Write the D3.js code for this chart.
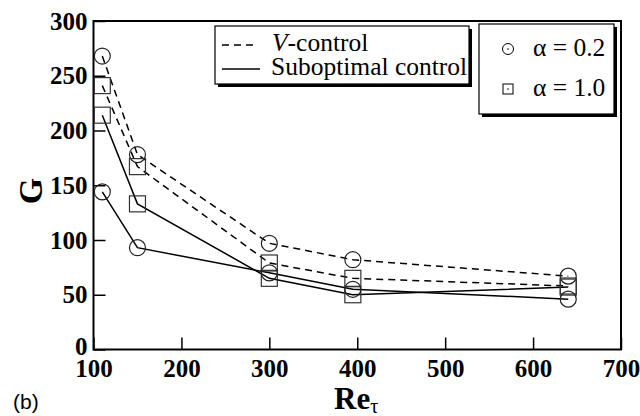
<!DOCTYPE html>
<html>
<head>
<meta charset="utf-8">
<script src="https://cdn.jsdelivr.net/npm/d3@7"></script>
<style>
body { margin: 0; background: #fff; }
svg { display: block; }
</style>
</head>
<body>
<div id="container"></div>
<script>
// Re_tau positions of the runs
var reTau = [110, 150, 300, 395, 640];

// G values
var vControlA02 = [268, 178, 97, 82, 67];
var vControlA10 = [241, 167, 79, 65, 58];
var subOptA10 = [214, 133, 65, 50, 57];
var subOptA02 = [144, 93, 70, 55, 46];

var xTicks = [100, 200, 300, 400, 500, 600, 700];
var yTicks = [0, 50, 100, 150, 200, 250, 300];

var series = [
    {name: "vA02", values: vControlA02, dash: true, marker: "circle"},
    {name: "vA10", values: vControlA10, dash: true, marker: "square"},
    {name: "sA10", values: subOptA10, dash: false, marker: "square"},
    {name: "sA02", values: subOptA02, dash: false, marker: "circle"}
];

var W = 640, H = 416;
var plotL = 93.5, plotT = 21, plotR = 621, plotB = 349.5;
var serif = "'Liberation Serif', 'Times New Roman', serif";

var svg = d3.select("#container").append("svg")
    .attr("width", W).attr("height", H)
    .attr("font-family", serif);

var x = d3.scaleLinear().domain([100, 700]).range([plotL, plotR]);
var y = d3.scaleLinear().domain([0, 300]).range([plotB, plotT]);

// axes, ticks pointing inward
var xAxis = svg.append("g")
    .attr("transform", "translate(0," + plotB + ")")
    .call(d3.axisBottom(x).tickValues(xTicks).tickSize(-12).tickPadding(10).tickFormat(d3.format("d")));
var yAxis = svg.append("g")
    .attr("transform", "translate(" + plotL + ",0)")
    .call(d3.axisLeft(y).tickValues(yTicks).tickSize(-12).tickPadding(6).tickFormat(d3.format("d")));

for (let ax of [xAxis, yAxis]) {
    ax.select(".domain").remove();
    ax.selectAll(".tick line").attr("stroke", "#000").attr("stroke-width", 1.5);
    ax.selectAll(".tick text")
        .attr("font-family", serif)
        .attr("font-weight", "bold")
        .attr("font-size", 25)
        .attr("fill", "#000");
}
// the 0 label sits a little higher than its tick
yAxis.selectAll(".tick text").filter(function(d) { return d == 0; }).attr("dy", "0.2em");

// frame
svg.append("rect")
    .attr("x", plotL).attr("y", plotT)
    .attr("width", plotR - plotL).attr("height", plotB - plotT)
    .attr("fill", "none").attr("stroke", "#000").attr("stroke-width", 2);

var line = d3.line()
    .x(function(d, i) { return x(reTau[i]); })
    .y(function(d) { return y(d); });

svg.selectAll("path.series")
    .data(series)
    .enter()
    .append("path")
        .attr("class", "series")
        .attr("d", function(d) { return line(d.values); })
        .attr("fill", "none")
        .attr("stroke", "#000")
        .attr("stroke-width", 1.5)
        .attr("stroke-dasharray", function(d) {
            if (d.dash) { return "7,5"; }
            else { return null; }
        });

// markers
series.forEach(function(s) {
    var g = svg.append("g").attr("class", "markers " + s.name);
    s.values.forEach(function(v, i) {
        if (s.marker == "circle") {
            g.append("circle")
                .attr("cx", x(reTau[i])).attr("cy", y(v)).attr("r", 8)
                .attr("fill", "none").attr("stroke", "#222").attr("stroke-width", 1.2);
        } else {
            g.append("rect")
                .attr("x", x(reTau[i]) - 8).attr("y", y(v) - 8)
                .attr("width", 16).attr("height", 16)
                .attr("fill", "none").attr("stroke", "#333").attr("stroke-width", 1.2);
        }
    });
});

// legend boxes with drop shadow
function legendBox(bx, by, bw, bh) {
    svg.append("rect")
        .attr("x", bx + 3).attr("y", by + 3).attr("width", bw).attr("height", bh)
        .attr("fill", "#000");
    svg.append("rect")
        .attr("x", bx).attr("y", by).attr("width", bw).attr("height", bh)
        .attr("fill", "#fff").attr("stroke", "#000").attr("stroke-width", 1.2);
}

legendBox(215, 26, 254, 58);
svg.append("line")
    .attr("x1", 222).attr("x2", 254).attr("y1", 45).attr("y2", 45)
    .attr("stroke", "#000").attr("stroke-width", 1.5).attr("stroke-dasharray", "7,5");
svg.append("line")
    .attr("x1", 222).attr("x2", 260).attr("y1", 69).attr("y2", 69)
    .attr("stroke", "#000").attr("stroke-width", 1.5);
var t1 = svg.append("text").attr("x", 272).attr("y", 51).attr("font-size", 25.5);
t1.append("tspan").attr("font-style", "italic").text("V");
t1.append("tspan").text("-control");
svg.append("text").attr("x", 271).attr("y", 75).attr("font-size", 25.5).text("Suboptimal control");

legendBox(479, 24, 135, 90);
svg.append("circle").attr("cx", 508).attr("cy", 49).attr("r", 5.5)
    .attr("fill", "none").attr("stroke", "#000").attr("stroke-width", 1);
svg.append("circle").attr("cx", 508).attr("cy", 49).attr("r", 0.8).attr("fill", "#000");
svg.append("rect").attr("x", 503).attr("y", 84).attr("width", 10).attr("height", 10)
    .attr("fill", "none").attr("stroke", "#000").attr("stroke-width", 1);
svg.append("circle").attr("cx", 508).attr("cy", 89).attr("r", 0.8).attr("fill", "#000");
svg.append("text").attr("x", 533).attr("y", 56).attr("font-size", 25.5).text("\u03b1 = 0.2");
svg.append("text").attr("x", 533).attr("y", 96).attr("font-size", 25.5).text("\u03b1 = 1.0");

// axis titles
svg.append("text")
    .attr("transform", "translate(42,191) rotate(-90)")
    .attr("text-anchor", "middle")
    .attr("font-weight", "bold").attr("font-size", 34)
    .text("G");
var xt = svg.append("text")
    .attr("x", 334).attr("y", 409)
    .attr("font-weight", "bold").attr("font-size", 31);
xt.append("tspan").text("Re");
xt.append("tspan").attr("dy", 4).attr("font-size", 20).attr("font-weight", "normal").text("\u03c4");

svg.append("text")
    .attr("x", 13).attr("y", 409)
    .attr("font-family", "'Liberation Sans', Arial, sans-serif")
    .attr("font-size", 21)
    .text("(b)");
</script>
</body>
</html>
